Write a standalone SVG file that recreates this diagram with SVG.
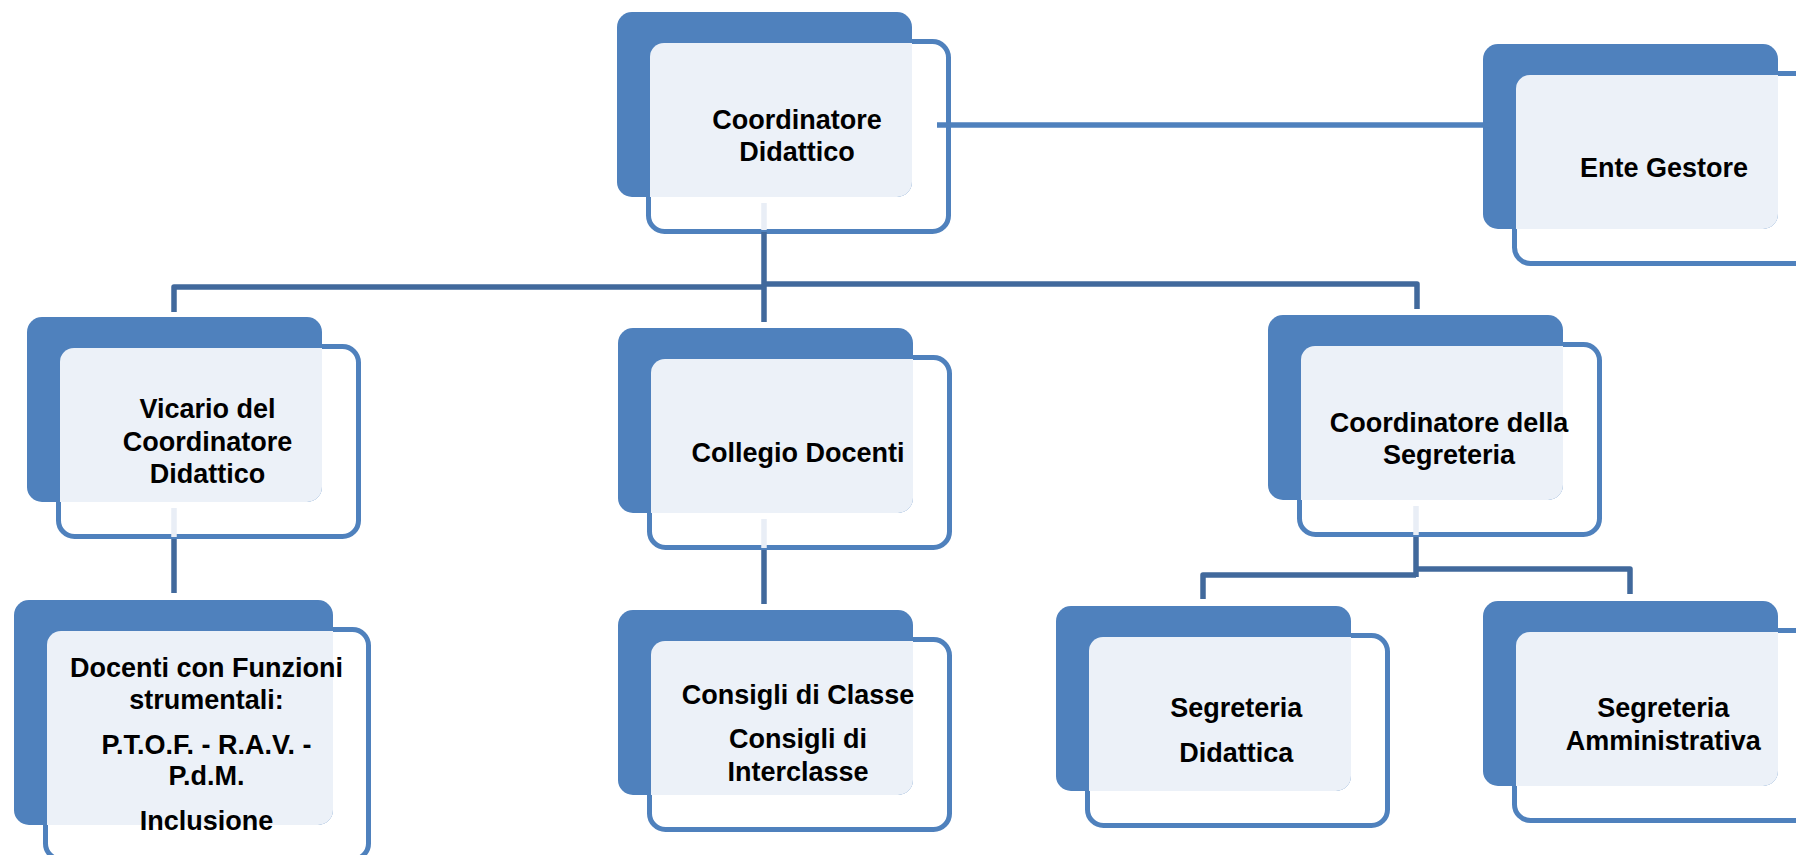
<svg xmlns="http://www.w3.org/2000/svg" xmlns:xlink="http://www.w3.org/1999/xlink" width="1796" height="855" viewBox="0 0 1796 855">
<style>
.outline{fill:#FFFFFF;stroke:#4F81BD;stroke-width:5}
.dark{fill:#4F81BD}
.light{fill:#ECF1F8}
.lbl{font-family:"Liberation Sans",Arial,sans-serif;font-weight:bold;font-size:27px;fill:#000000;text-anchor:middle}
.conn{fill:none;stroke:#41699C;stroke-width:5.5;stroke-linejoin:round}
.conn-top{fill:none;stroke:#4F81BD;stroke-width:5.5}
.conn-light{fill:none;stroke:#E9EEF6;stroke-width:5.5}
</style>
<defs>
<g id="box">
<rect class="outline" x="31.5" y="29.5" width="300" height="190" rx="16"/>
<rect class="dark" x="0" y="0" width="295" height="185" rx="15"/>
<path class="light" d="M33,45 A14,14 0 0 1 47,31 L295,31 L295,170 A15,15 0 0 1 280,185 L33,185 Z"/>
</g>
</defs>
<rect width="1796" height="855" fill="#FFFFFF"/>

<g id="node-coordinatore" transform="translate(617,12)">
<use href="#box"/>
<text class="lbl" x="180" y="117">Coordinatore</text>
<text class="lbl" x="180" y="149">Didattico</text>
</g>

<g id="node-ente" transform="translate(1483,44)">
<use href="#box"/>
<text class="lbl" x="181" y="133">Ente Gestore</text>
</g>

<g id="node-vicario" transform="translate(27,317)">
<use href="#box"/>
<text class="lbl" x="180.5" y="101">Vicario del</text>
<text class="lbl" x="180.5" y="133.5">Coordinatore</text>
<text class="lbl" x="180.5" y="166">Didattico</text>
</g>

<g id="node-collegio" transform="translate(618,328)">
<use href="#box"/>
<text class="lbl" x="180" y="133.7">Collegio Docenti</text>
</g>

<g id="node-coordseg" transform="translate(1268,315)">
<use href="#box"/>
<text class="lbl" x="181" y="116.7">Coordinatore della</text>
<text class="lbl" x="181" y="149">Segreteria</text>
</g>

<g id="node-docenti" transform="translate(14,600)">
<rect class="outline" x="31.5" y="29.5" width="323" height="230" rx="16"/>
<rect class="dark" x="0" y="0" width="319" height="225" rx="15"/>
<path class="light" d="M33,45 A14,14 0 0 1 47,31 L319,31 L319,210 A15,15 0 0 1 304,225 L33,225 Z"/>
<text class="lbl" x="192.5" y="76.5">Docenti con Funzioni</text>
<text class="lbl" x="192.5" y="108.5">strumentali:</text>
<text class="lbl" x="192.5" y="153.5">P.T.O.F. - R.A.V. -</text>
<text class="lbl" x="192.5" y="184.5">P.d.M.</text>
<text class="lbl" x="192.5" y="230">Inclusione</text>
</g>

<g id="node-consigli" transform="translate(618,610)">
<use href="#box"/>
<text class="lbl" x="180" y="94">Consigli di Classe</text>
<text class="lbl" x="180" y="138">Consigli di</text>
<text class="lbl" x="180" y="171">Interclasse</text>
</g>

<g id="node-segdid" transform="translate(1056,606)">
<use href="#box"/>
<text class="lbl" x="180.3" y="111.3">Segreteria</text>
<text class="lbl" x="180.3" y="155.7">Didattica</text>
</g>

<g id="node-segamm" transform="translate(1483,601)">
<use href="#box"/>
<text class="lbl" x="180.3" y="116.3">Segreteria</text>
<text class="lbl" x="180.3" y="149">Amministrativa</text>
</g>

<g id="connectors">
<path class="conn-top" d="M937,125 H1490"/>
<path class="conn-light" d="M764,203 V230"/>
<path class="conn-light" d="M174,508 V537"/>
<path class="conn-light" d="M764,519 V548"/>
<path class="conn-light" d="M1416,506 V535"/>
<path class="conn" d="M764,232 V322"/>
<path class="conn" d="M174,312 V287 H764"/>
<path class="conn" d="M764,284 H1417 V309"/>
<path class="conn" d="M174,539 V593"/>
<path class="conn" d="M764,550 V604"/>
<path class="conn" d="M1416,537 V577"/>
<path class="conn" d="M1416,575 H1203 V599"/>
<path class="conn" d="M1416,569 H1630 V594"/>
</g>
</svg>
